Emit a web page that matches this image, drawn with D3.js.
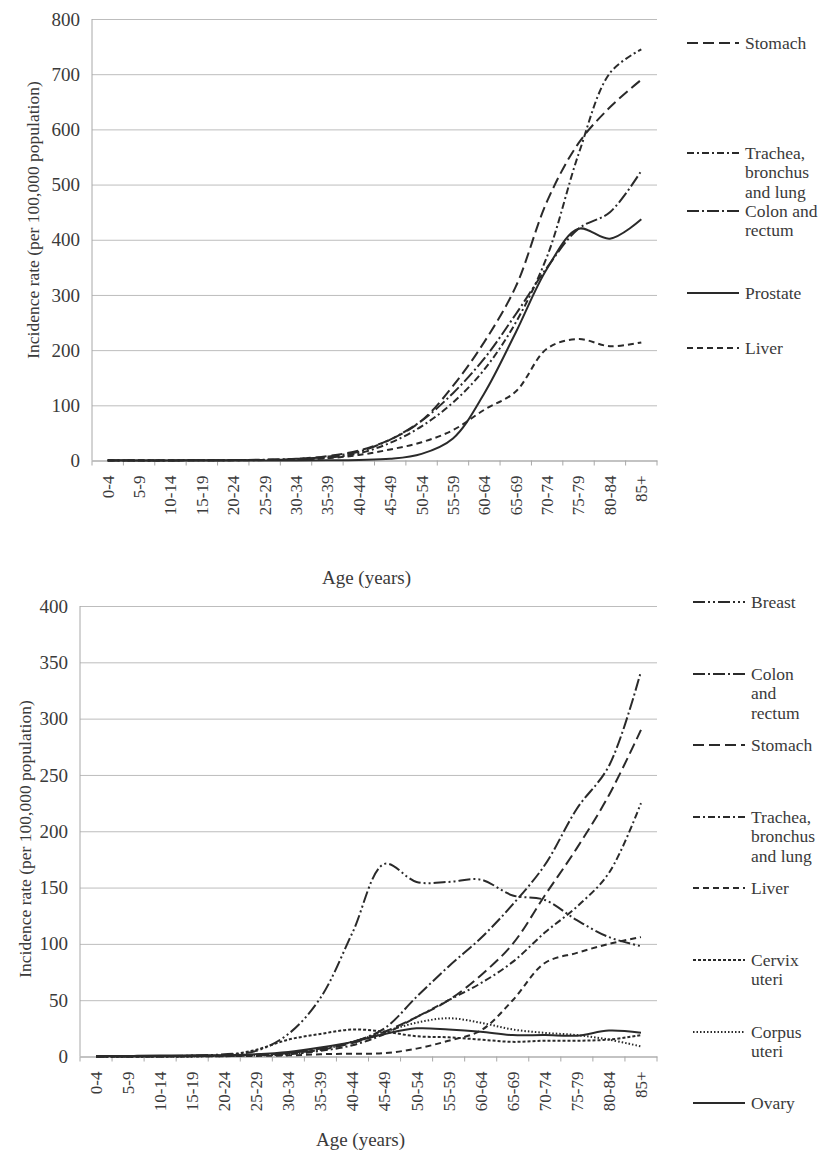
<!DOCTYPE html>
<html>
<head>
<meta charset="utf-8">
<script src="https://cdn.jsdelivr.net/npm/d3@7/dist/d3.min.js"></script>
<style>
  body { margin: 0; background: #fff; }
  svg text { font-family: "Liberation Serif", Tinos, "Times New Roman", Times, "DejaVu Serif", serif; fill: #3a3a3a; }
</style>
</head>
<body>
<div id="chart"></div>
<script>
// age groups on the x axis (shared by both panels)
const ageGroups = ['0-4', '5-9', '10-14', '15-19', '20-24', '25-29', '30-34', '35-39', '40-44',
  '45-49', '50-54', '55-59', '60-64', '65-69', '70-74', '75-79', '80-84', '85+'];

// top panel (men), incidence per 100,000
const maleStomach  = [0.3, 0.2, 0.2, 0.3, 0.6, 1.2, 3, 8, 18, 38, 72, 135, 215, 315, 470, 575, 640, 690];
const maleLung     = [0.2, 0.1, 0.2, 0.3, 0.5, 0.8, 2, 5, 13, 32, 62, 105, 165, 250, 370, 555, 702, 745];
const maleColon    = [0.2, 0.1, 0.2, 0.4, 0.8, 1.5, 3, 7, 16, 38, 72, 122, 185, 265, 350, 420, 450, 525];
const maleProstate = [0, 0, 0, 0, 0, 0, 0, 0.3, 1, 3, 12, 40, 122, 232, 348, 420, 402, 437];
const maleLiver    = [0.5, 0.3, 0.3, 0.4, 0.6, 1, 2, 4, 10, 20, 33, 55, 92, 125, 203, 220, 207, 214];
const maleTicks = [0, 100, 200, 300, 400, 500, 600, 700, 800];

// bottom panel (women)
const femaleBreast  = [0, 0, 0.3, 0.8, 2, 5, 20, 52, 110, 171, 155, 155, 157, 143, 139, 121, 106, 98];
const femaleColon   = [0.1, 0.1, 0.2, 0.3, 0.8, 1.5, 3, 7, 13, 25, 53, 80, 105, 135, 170, 220, 258, 342];
const femaleStomach = [0.1, 0.1, 0.2, 0.4, 0.8, 1.5, 3, 6, 12, 22, 35, 50, 72, 100, 143, 185, 232, 290];
const femaleLung    = [0.1, 0.1, 0.2, 0.3, 0.5, 1, 2, 5, 10, 20, 35, 50, 65, 84, 110, 133, 163, 225];
const femaleLiver   = [0.2, 0.1, 0.1, 0.2, 0.3, 0.5, 1, 2, 2.5, 3, 7, 14, 23, 50, 83, 92, 100, 106];
const femaleCervix  = [0, 0, 0, 0.2, 1, 6, 15, 20, 24, 22, 18, 17, 15, 13, 14, 14, 15, 19];
const femaleCorpus  = [0, 0, 0, 0.1, 0.3, 1, 2, 6, 13, 22, 30, 34, 30, 24, 21, 19, 15, 9];
const femaleOvary   = [0.5, 0.5, 0.8, 1, 1.2, 2, 4, 8, 13, 20, 25, 24, 22, 19, 19, 18.5, 23, 21];
const femaleTicks = [0, 50, 100, 150, 200, 250, 300, 350, 400];

// line styles
const dash = {
  stomach: '11,5',
  lung: '7,3,2,3',
  colon: '12,3,2,3',
  breast: '12,3,2,3,2,3',
  liver: '6,4',
  cervix: '3,2',
  corpus: '1.5,2',
  solid: null
};

const FONT = '"Liberation Serif", Tinos, "Times New Roman", Times, "DejaVu Serif", serif';

const svg = d3.select('#chart').append('svg')
  .attr('width', 820)
  .attr('height', 1152)
  .attr('font-family', FONT);

class IncidenceChart {

  constructor(_config, _series) {
    this.config = _config;
    this.series = _series;
    this.initVis();
  }

  initVis() {
    let vis = this;
    const c = vis.config;

    vis.x = d3.scaleBand().domain(ageGroups).range([c.left, c.right]);
    vis.y = d3.scaleLinear().domain([0, d3.max(c.ticks)]).range([c.bottom, c.top]);

    vis.g = svg.append('g');

    // horizontal gridlines
    vis.g.append('g')
      .attr('transform', `translate(${c.left},0)`)
      .call(d3.axisLeft(vis.y).tickValues(c.ticks).tickSize(-(c.right - c.left)).tickFormat(''))
      .call(g => g.select('.domain').remove())
      .selectAll('line')
      .attr('stroke', '#bdbdbd')
      .attr('stroke-width', 1);

    // y tick labels
    vis.g.append('g')
      .attr('transform', `translate(${c.left},0)`)
      .call(d3.axisLeft(vis.y).tickValues(c.ticks).tickSize(0).tickPadding(12))
      .call(g => g.attr('font-family', FONT).select('.domain').remove())
      .selectAll('text')
      .style('font-size', '19px')
      .attr('fill', '#3a3a3a');

    // left axis line
    vis.g.append('line')
      .attr('x1', c.left).attr('x2', c.left)
      .attr('y1', c.top).attr('y2', c.bottom)
      .attr('stroke', '#a8a8a8');

    // x axis, labels rotated
    const xAxis = vis.g.append('g')
      .attr('transform', `translate(0,${c.bottom})`)
      .call(d3.axisBottom(vis.x).tickSize(0))
      .call(g => g.attr('font-family', FONT).select('.domain').attr('stroke', '#a8a8a8'));
    xAxis.selectAll('text')
      .attr('transform', 'rotate(-90)')
      .attr('text-anchor', 'end')
      .attr('x', -15)
      .attr('y', 0)
      .attr('dy', '0.35em')
      .style('font-size', '17px')
      .attr('fill', '#3a3a3a');

    // tick marks between the categories
    vis.g.selectAll('.xtick')
      .data(d3.range(ageGroups.length + 1))
      .join('line')
      .attr('class', 'xtick')
      .attr('x1', i => c.left + i * vis.x.step())
      .attr('x2', i => c.left + i * vis.x.step())
      .attr('y1', c.bottom)
      .attr('y2', c.bottom + 5)
      .attr('stroke', '#a8a8a8');

    // axis titles
    vis.g.append('text')
      .attr('x', (c.left + c.right) / 2 - 8)
      .attr('y', c.xTitleY)
      .attr('text-anchor', 'middle')
      .style('font-size', '19px')
      .text('Age (years)');

    vis.g.append('text')
      .attr('transform', `translate(${c.yTitleX},${c.yTitleY}) rotate(-90)`)
      .attr('text-anchor', 'middle')
      .attr('dy', '0.35em')
      .style('font-size', '17.5px')
      .text('Incidence rate (per 100,000 population)');

    vis.renderVis();
  }

  renderVis() {
    let vis = this;
    const c = vis.config;

    const line = d3.line()
      .x((d, i) => vis.x(ageGroups[i]) + vis.x.bandwidth() / 2)
      .y(d => vis.y(d))
      .curve(d3.curveCatmullRom.alpha(0.5));

    vis.g.selectAll('.series')
      .data(vis.series)
      .join('path')
      .attr('class', 'series')
      .attr('d', d => line(d.values))
      .attr('fill', 'none')
      .attr('stroke', '#2a2a2a')
      .attr('stroke-width', 2)
      .attr('stroke-dasharray', d => d.dash);

    // legend
    const legend = vis.g.selectAll('.legend')
      .data(vis.series)
      .join('g')
      .attr('class', 'legend')
      .attr('transform', d => `translate(${c.legendX},${d.legendY})`);

    legend.append('line')
      .attr('x1', 0).attr('x2', 52)
      .attr('y1', 0).attr('y2', 0)
      .attr('stroke', '#2a2a2a')
      .attr('stroke-width', 2)
      .attr('stroke-dasharray', d => d.dash);

    legend.append('text')
      .attr('x', 58)
      .attr('y', 0)
      .style('font-size', '17.5px')
      .selectAll('tspan')
      .data(d => d.label)
      .join('tspan')
      .attr('x', 58)
      .attr('dy', (d, i) => i === 0 ? '0.35em' : '1.1em')
      .text(d => d);
  }
}

new IncidenceChart({
  left: 92, right: 657, top: 19, bottom: 460.5,
  ticks: maleTicks,
  xTitleY: 584, yTitleX: 33, yTitleY: 220,
  legendX: 687
}, [
  {values: maleStomach, dash: dash.stomach, label: ['Stomach'], legendY: 43},
  {values: maleLung, dash: dash.lung, label: ['Trachea,', 'bronchus', 'and lung'], legendY: 153},
  {values: maleColon, dash: dash.colon, label: ['Colon and', 'rectum'], legendY: 211},
  {values: maleProstate, dash: dash.solid, label: ['Prostate'], legendY: 293},
  {values: maleLiver, dash: dash.liver, label: ['Liver'], legendY: 348}
]);

new IncidenceChart({
  left: 80, right: 657, top: 606, bottom: 1056.5,
  ticks: femaleTicks,
  xTitleY: 1146, yTitleX: 25, yTitleY: 839,
  legendX: 693
}, [
  {values: femaleBreast, dash: dash.breast, label: ['Breast'], legendY: 602},
  {values: femaleColon, dash: dash.colon, label: ['Colon', 'and', 'rectum'], legendY: 674},
  {values: femaleStomach, dash: dash.stomach, label: ['Stomach'], legendY: 745},
  {values: femaleLung, dash: dash.lung, label: ['Trachea,', 'bronchus', 'and lung'], legendY: 817},
  {values: femaleLiver, dash: dash.liver, label: ['Liver'], legendY: 888},
  {values: femaleCervix, dash: dash.cervix, label: ['Cervix', 'uteri'], legendY: 960},
  {values: femaleCorpus, dash: dash.corpus, label: ['Corpus', 'uteri'], legendY: 1032},
  {values: femaleOvary, dash: dash.solid, label: ['Ovary'], legendY: 1103}
]);
</script>
</body>
</html>
